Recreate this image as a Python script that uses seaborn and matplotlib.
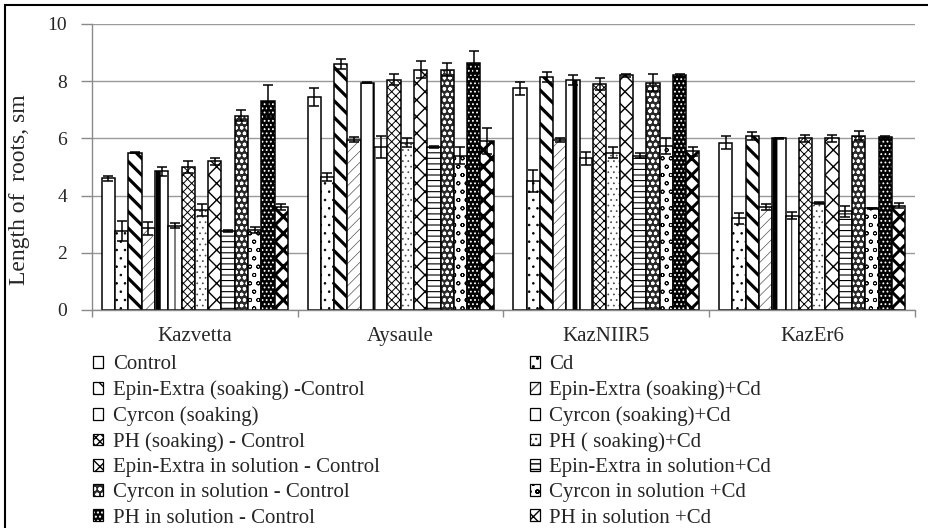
import matplotlib
matplotlib.use("Agg")
import matplotlib.pyplot as plt
from matplotlib.patches import Patch, Rectangle
import pandas as pd
import seaborn as sns

# Varieties on the x axis
varieties = ["Kazvetta", "Aysaule", "KazNIIR5", "KazEr6"]

# Treatments (drawn in this order inside each variety)
treatments = [
    "Control",
    "Cd",
    "Epin-Extra (soaking) -Control",
    "Epin-Extra (soaking)+Cd",
    "Cyrcon (soaking)",
    "Cyrcon (soaking)+Cd",
    "PH (soaking) - Control",
    "PH ( soaking)+Cd",
    "Epin-Extra in solution - Control",
    "Epin-Extra in solution+Cd",
    "Cyrcon in solution - Control",
    "Cyrcon in solution +Cd",
    "PH in solution - Control",
    "PH in solution +Cd",
]

# Root length, sm (one value per variety) and standard errors
control = [4.6, 7.45, 7.75, 5.85]
cd = [2.75, 4.65, 4.5, 3.2]
epin_soak_ctrl = [5.5, 8.6, 8.15, 6.1]
epin_soak_cd = [2.85, 5.95, 5.95, 3.6]
cyr_soak = [4.85, 7.95, 8.05, 6.0]
cyr_soak_cd = [2.95, 5.7, 5.3, 3.3]
ph_soak_ctrl = [5.0, 8.05, 7.9, 6.0]
ph_soak_cd = [3.5, 5.85, 5.5, 3.75]
epin_sol_ctrl = [5.2, 8.4, 8.2, 6.0]
epin_sol_cd = [2.75, 5.7, 5.4, 3.45]
cyr_sol_ctrl = [6.8, 8.4, 7.95, 6.1]
cyr_sol_cd = [2.8, 5.4, 5.75, 3.55]
ph_sol_ctrl = [7.3, 8.65, 8.2, 6.05]
ph_sol_cd = [3.6, 5.9, 5.55, 3.65]

control_err = [0.1, 0.3, 0.22, 0.22]
cd_err = [0.35, 0.15, 0.38, 0.19]
epin_soak_ctrl_err = [0.02, 0.18, 0.17, 0.14]
epin_soak_cd_err = [0.22, 0.09, 0.08, 0.09]
cyr_soak_err = [0.15, 0.03, 0.18, 0.02]
cyr_soak_cd_err = [0.08, 0.4, 0.22, 0.12]
ph_soak_ctrl_err = [0.2, 0.2, 0.22, 0.12]
ph_soak_cd_err = [0.2, 0.15, 0.2, 0.04]
epin_sol_ctrl_err = [0.12, 0.3, 0.04, 0.12]
epin_sol_cd_err = [0.04, 0.05, 0.1, 0.19]
cyr_sol_ctrl_err = [0.2, 0.23, 0.3, 0.16]
cyr_sol_cd_err = [0.1, 0.3, 0.28, 0.03]
ph_sol_ctrl_err = [0.55, 0.4, 0.05, 0.03]
ph_sol_cd_err = [0.1, 0.45, 0.16, 0.08]

values = [control, cd, epin_soak_ctrl, epin_soak_cd, cyr_soak, cyr_soak_cd,
          ph_soak_ctrl, ph_soak_cd, epin_sol_ctrl, epin_sol_cd, cyr_sol_ctrl,
          cyr_sol_cd, ph_sol_ctrl, ph_sol_cd]
errors = [control_err, cd_err, epin_soak_ctrl_err, epin_soak_cd_err,
          cyr_soak_err, cyr_soak_cd_err, ph_soak_ctrl_err, ph_soak_cd_err,
          epin_sol_ctrl_err, epin_sol_cd_err, cyr_sol_ctrl_err, cyr_sol_cd_err,
          ph_sol_ctrl_err, ph_sol_cd_err]

# Fill styles: (face colour, hatch, hatch line width, hatch colour)
styles = [
    ("white", "", 1.0, "black"),
    ("white", "..", 0.6, "black"),
    ("white", "\\\\", 2.3, "black"),
    ("white", "///", 0.5, "#555555"),
    ("white", "|", 3.5, "black"),
    ("white", "|", 0.9, "#333333"),
    ("white", "xxxx", 0.7, "black"),
    ("white", "...", 0.5, "#444444"),
    ("white", "xx", 1.0, "black"),
    ("white", "---", 0.8, "black"),
    ("#2a2a2a", "ooo", 0.9, "white"),
    ("white", "oo", 0.6, "black"),
    ("black", "....", 0.8, "white"),
    ("white", "XX", 2.2, "black"),
]

df = pd.DataFrame(
    [(v, t, values[i][j]) for i, t in enumerate(treatments)
     for j, v in enumerate(varieties)],
    columns=["variety", "treatment", "length"],
)

sns.set_theme(style="white")
plt.rcParams["font.family"] = ["Liberation Serif", "DejaVu Serif"]

fig = plt.figure(figsize=(9.29, 5.28), dpi=100)
ax = fig.add_axes([92 / 929, 1 - 310 / 528, (915 - 92) / 929, (310 - 24) / 528])

palette = {t: s[0] for t, s in zip(treatments, styles)}
sns.barplot(data=df, x="variety", y="length", hue="treatment",
            order=varieties, hue_order=treatments, palette=palette,
            saturation=1, width=0.905, gap=0, errorbar=None,
            edgecolor="black", linewidth=1.1, legend=False, ax=ax, zorder=2)


def style_patch(p, st):
    face, hatch, hlw, hcol = st
    p.set_hatch(hatch)
    if hasattr(p, "set_hatch_linewidth"):
        p.set_hatch_linewidth(hlw)
    else:
        p._hatch_linewidth = hlw
    if hasattr(p, "set_hatchcolor"):
        p.set_hatchcolor(hcol)
    else:
        p._hatch_color = matplotlib.colors.to_rgba(hcol)


bar_containers = list(ax.containers)
for i, cont in enumerate(bar_containers):
    for j, bar in enumerate(cont):
        style_patch(bar, styles[i])
        cx = bar.get_x() + bar.get_width() / 2
        ax.errorbar(cx, bar.get_height(), yerr=errors[i][j], fmt="none",
                    ecolor="black", elinewidth=1.1, capsize=3.6,
                    capthick=1.1, zorder=3)

ax.set_ylim(0, 10)
ax.set_xlim(-0.5, 3.5)
ax.set_yticks([0, 2, 4, 6, 8, 10])
ax.grid(axis="y", color="#9a9a9a", linewidth=1.0, zorder=0)
ax.set_axisbelow(True)
for side in ["top", "right"]:
    ax.spines[side].set_visible(False)
for side in ["left", "bottom"]:
    ax.spines[side].set_color("#8a8a8a")
    ax.spines[side].set_linewidth(1.0)

ax.tick_params(axis="y", which="major", direction="out", length=8,
               color="#8a8a8a", width=1.0, pad=10, labelsize=14, left=True)
ax.set_xticks(range(len(varieties)))
ax.set_xticklabels(varieties)
ax.set_xticks([-0.5, 0.5, 1.5, 2.5, 3.5], minor=True)
ax.tick_params(axis="x", which="major", length=0, pad=12, labelsize=15)
ax.tick_params(axis="x", which="minor", direction="out", length=5,
               color="#8a8a8a", width=1.0, bottom=True)
ax.set_xlabel("")
ax.set_ylabel("Length of  roots, sm", fontsize=17)
ax.yaxis.set_label_coords(-0.075, 0.42)

# Legend: two columns read row by row
handles = []
for st in styles:
    h = Patch(facecolor=st[0], edgecolor="black", linewidth=0.9)
    style_patch(h, st)
    handles.append(h)
order = [0, 2, 4, 6, 8, 10, 12, 1, 3, 5, 7, 9, 11, 13]
fig.legend([handles[k] for k in order], [treatments[k] for k in order],
           loc="upper left", bbox_to_anchor=(93 / 929, 1 - 355 / 528),
           ncol=2, frameon=False, fontsize=15, handlelength=0.5,
           handleheight=0.5, handletextpad=0.45, labelspacing=0.3,
           columnspacing=7.2, borderaxespad=0, borderpad=0)

# Outer frame along the left and top of the figure
fig.add_artist(Rectangle((5 / 929, -0.05), 1.1, 1.05 - 5 / 528,
                         transform=fig.transFigure, fill=False,
                         edgecolor="black", linewidth=1.5))

fig.savefig("out.png", dpi=100)
